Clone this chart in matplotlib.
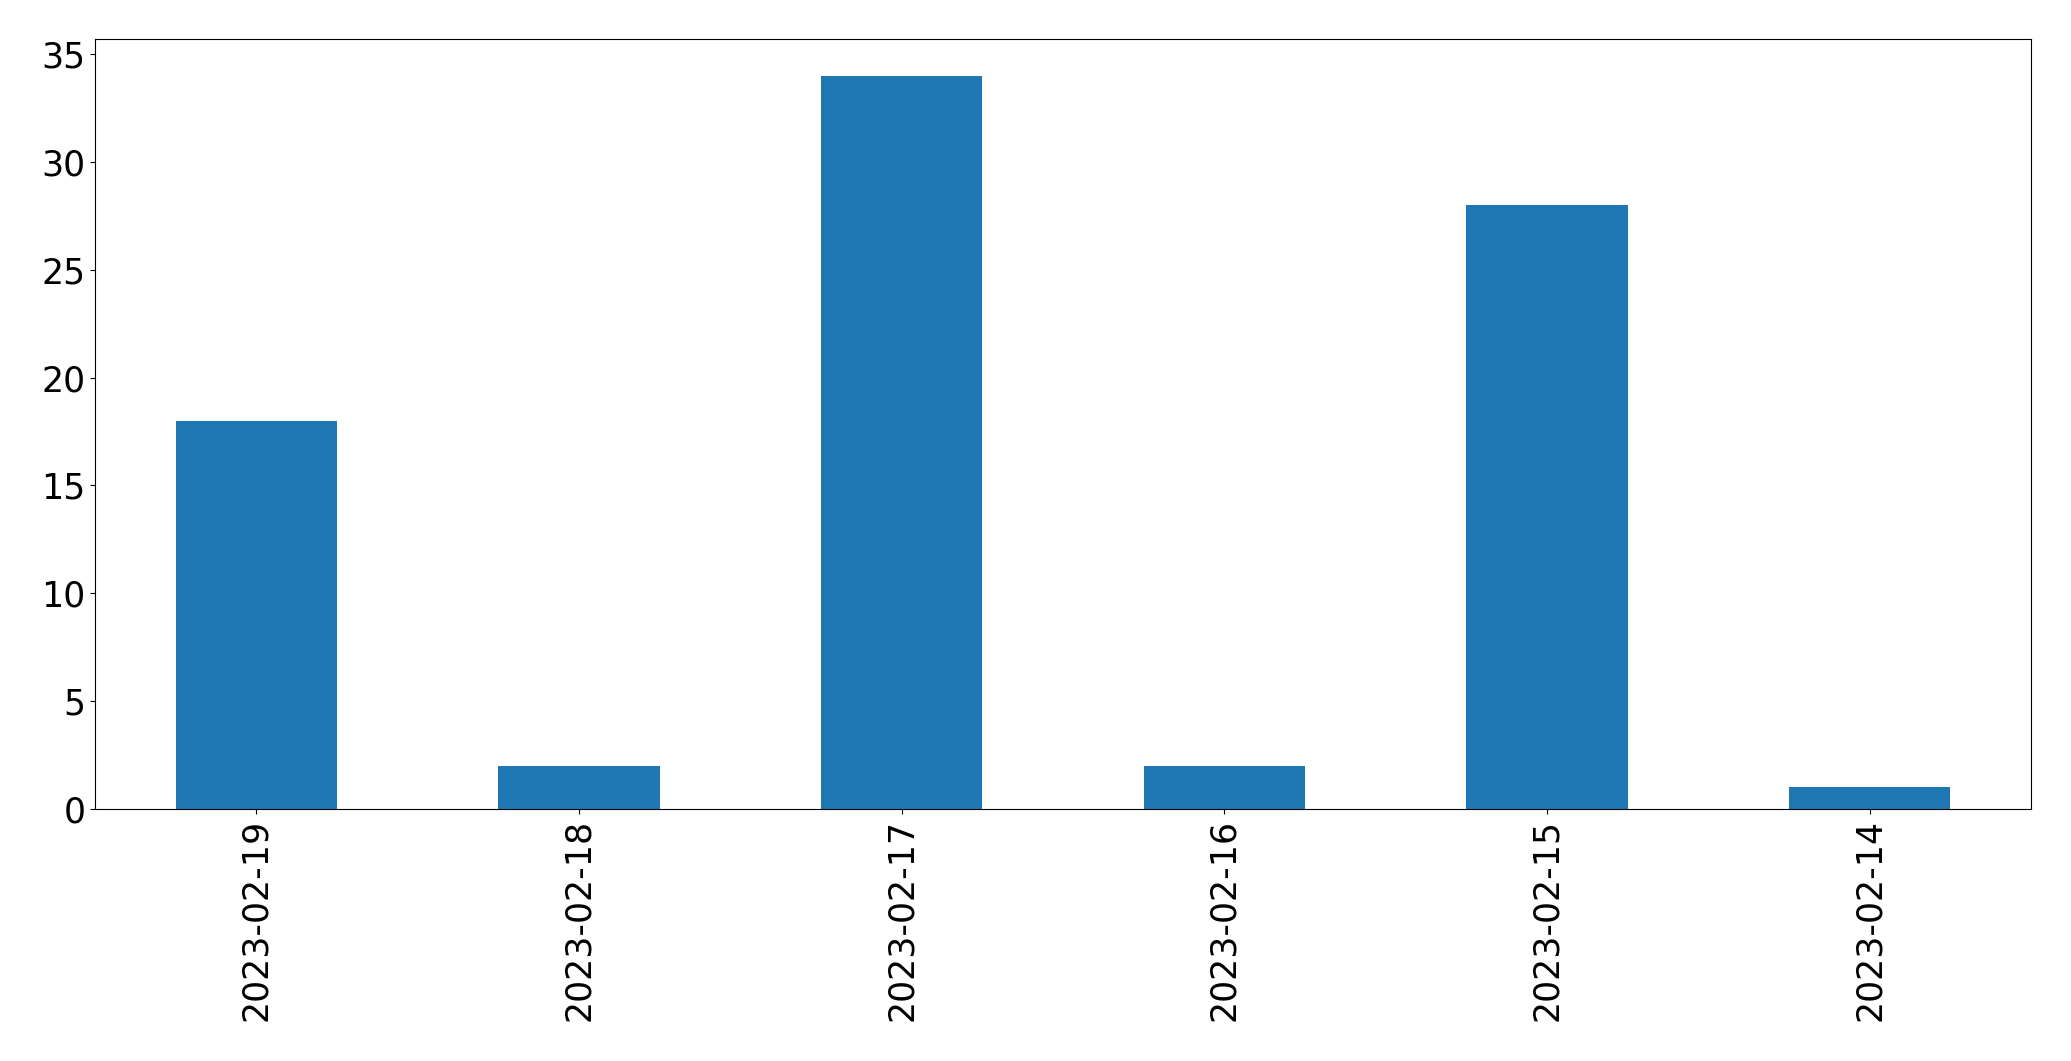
import matplotlib
matplotlib.use("Agg")
import matplotlib.pyplot as plt

DATES = ["2023-02-19", "2023-02-18", "2023-02-17", "2023-02-16", "2023-02-15", "2023-02-14"]
COUNTS = [18, 2, 34, 2, 28, 1]

FONT_SIZE = 25

fig = plt.figure(figsize=(20.71, 10.61), dpi=100)
ax = fig.add_axes([95 / 2071, 1 - 809 / 1061, (2031 - 95) / 2071, (809 - 39) / 1061])

x = list(range(len(DATES)))
ax.bar(x, COUNTS, width=0.5, color="#1f77b4")
ax.set_xlim(-0.5, len(DATES) - 0.5)
ax.set_ylim(0, max(COUNTS) * 1.05)

ax.set_xticks(x)
ax.set_xticklabels(DATES, rotation=90, fontsize=FONT_SIZE)
ax.set_yticks(range(0, 36, 5))
ax.tick_params(axis="y", labelsize=FONT_SIZE)

fig.savefig("out.png", dpi=100)
